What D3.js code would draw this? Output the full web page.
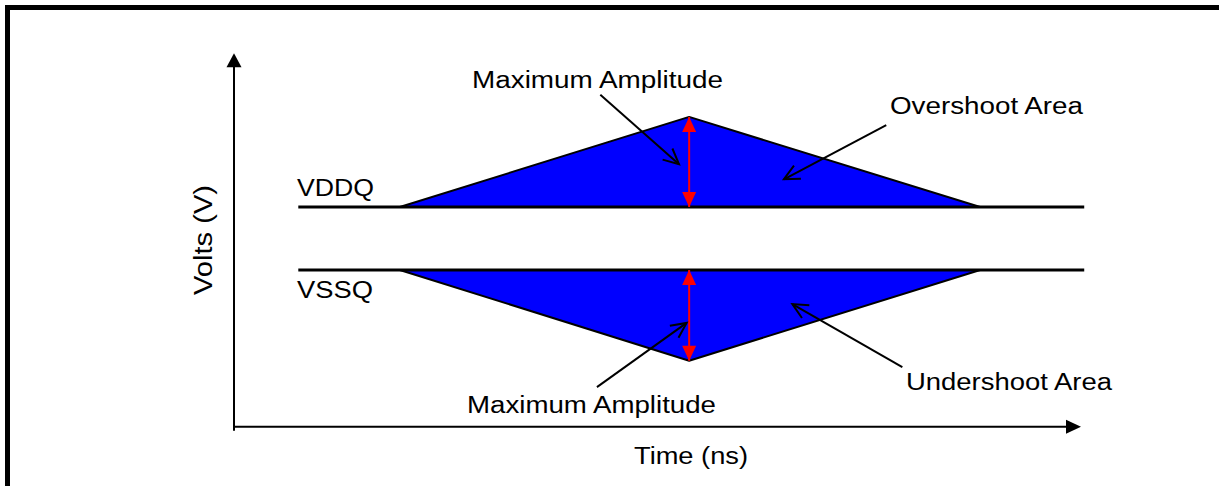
<!DOCTYPE html>
<html>
<head>
<meta charset="utf-8">
<script src="https://cdn.jsdelivr.net/npm/d3@7"></script>
<style>
  html, body { margin: 0; background: #fff; overflow: hidden; width: 1219px; height: 486px; }
  svg { display: block; }
  text { font-family: "Liberation Sans", Arial, sans-serif; fill: #000; }
</style>
</head>
<body>
<div id="chart"></div>
<script>
var svgWidth = 1219;
var svgHeight = 486;

// signal levels (normalised volts, VSSQ = 0, VDDQ = 1)
var railNames = ["VDDQ", "VSSQ"];
var railVolts = [1, 0];
var railTimes = [7.6, 100.5];        // where the rail lines start / end

// pulse shape (time units)
var pulseTimes = [19.6, 53.8, 88.2]; // ramp start, peak, ramp end
var pulsePeaks = [2.43, -1.44];      // overshoot peak, undershoot trough

// axis extents
var timeExtent = [0, 100];
var voltExtent = [-2.49, 3.41];

// annotation arrows: [tailTime, tailVolt, headTime, headVolt]
var noteArrows = [
  [43.3, 2.78, 52.6, 1.68],
  [77.1, 2.30, 65.0, 1.44],
  [42.9, -1.86, 53.5, -0.84],
  [79.0, -1.54, 66.0, -0.54]
];

var x = d3.scaleLinear().domain([0, 100]).range([234, 1080]);
var y = d3.scaleLinear().domain([0, 1]).range([270, 207]);

var svg = d3.select("#chart")
  .append("svg")
  .attr("width", svgWidth)
  .attr("height", svgHeight);

svg.append("rect").attr("width", svgWidth).attr("height", svgHeight).attr("fill", "#fff");

// frame (top and left edges only)
svg.append("rect").attr("x", 5).attr("y", 5).attr("width", svgWidth - 5).attr("height", 5).attr("fill", "#000");
svg.append("rect").attr("x", 5).attr("y", 5).attr("width", 5).attr("height", svgHeight - 5).attr("fill", "#000");

// filled triangle arrowhead, tip at (tx,ty), pointing along angle a
function head(g, tx, ty, a, len, half, color) {
  var bx = tx - len * Math.cos(a), by = ty - len * Math.sin(a);
  var px = -Math.sin(a) * half, py = Math.cos(a) * half;
  g.append("path")
    .attr("d", `M${tx},${ty}L${bx + px},${by + py}L${bx - px},${by - py}Z`)
    .attr("fill", color);
}

// axes
var axisG = svg.append("g");
axisG.append("line")
  .attr("x1", x(timeExtent[0])).attr("y1", y(voltExtent[0]) + 4)
  .attr("x2", x(timeExtent[0])).attr("y2", y(voltExtent[1]) + 10)
  .attr("stroke", "#000").attr("stroke-width", 2);
head(axisG, x(timeExtent[0]), y(voltExtent[1]) - 2, -Math.PI / 2, 14, 7.5, "#000");
axisG.append("line")
  .attr("x1", x(timeExtent[0])).attr("y1", y(voltExtent[0]))
  .attr("x2", x(timeExtent[1]) - 10).attr("y2", y(voltExtent[0]))
  .attr("stroke", "#000").attr("stroke-width", 2);
head(axisG, x(timeExtent[1]) + 1, y(voltExtent[0]), 0, 15, 7, "#000");

// overshoot / undershoot areas
var area = d3.line().x(d => x(d[0])).y(d => y(d[1]));
pulsePeaks.forEach(function(peak, i) {
  var base = railVolts[i];
  var pts = [[pulseTimes[0], base], [pulseTimes[1], peak], [pulseTimes[2], base]];
  svg.append("path")
    .attr("d", area(pts) + "Z")
    .attr("fill", "#0000ff")
    .attr("stroke", "#000")
    .attr("stroke-width", 2)
    .attr("stroke-linejoin", "round");
});

// rails
svg.selectAll(".rail")
  .data(railVolts)
  .enter()
  .append("line")
  .attr("class", "rail")
  .attr("x1", x(railTimes[0])).attr("x2", x(railTimes[1]))
  .attr("y1", d => y(d)).attr("y2", d => y(d))
  .attr("stroke", "#000")
  .attr("stroke-width", 3);

// red amplitude arrows
var redG = svg.append("g");
pulsePeaks.forEach(function(peak, i) {
  var y0 = y(railVolts[i]), y1 = y(peak);
  var px = x(pulseTimes[1]);
  redG.append("line")
    .attr("x1", px).attr("x2", px)
    .attr("y1", y0).attr("y2", y1)
    .attr("stroke", "#ff0000").attr("stroke-width", 2);
  var dir = y1 < y0 ? -Math.PI / 2 : Math.PI / 2;
  head(redG, px, y1, dir, 15, 7, "#ff0000");
  head(redG, px, y0, -dir, 15, 7, "#ff0000");
});

// annotation arrows with open heads
var noteG = svg.append("g").attr("stroke", "#000").attr("stroke-width", 2).attr("fill", "none");
noteArrows.forEach(function(d) {
  var x0 = x(d[0]), y0 = y(d[1]), x1 = x(d[2]), y1 = y(d[3]);
  var a = Math.atan2(y1 - y0, x1 - x0), L = 17, w = 0.45;
  noteG.append("line").attr("x1", x0).attr("y1", y0).attr("x2", x1).attr("y2", y1);
  noteG.append("path")
    .attr("d", `M${x1 - L * Math.cos(a - w)},${y1 - L * Math.sin(a - w)}L${x1},${y1}L${x1 - L * Math.cos(a + w)},${y1 - L * Math.sin(a + w)}`);
});

// labels
function label(tx, ty, str, len, size) {
  return svg.append("text")
    .attr("x", tx).attr("y", ty)
    .attr("font-size", size || 23)
    .attr("textLength", len)
    .attr("lengthAdjust", "spacingAndGlyphs")
    .text(str);
}
label(472, 88, "Maximum Amplitude", 251);
label(890, 114, "Overshoot Area", 193);
label(297, 196, railNames[0], 77);
label(297, 298, railNames[1], 76);
label(467, 413, "Maximum Amplitude", 249);
label(906, 390, "Undershoot Area", 206);
label(634, 464, "Time (ns)", 114);

svg.append("text")
  .attr("transform", "translate(212,295) rotate(-90)")
  .attr("font-size", 26)
  .attr("textLength", 110)
  .attr("lengthAdjust", "spacingAndGlyphs")
  .text("Volts (V)");
</script>
</body>
</html>
